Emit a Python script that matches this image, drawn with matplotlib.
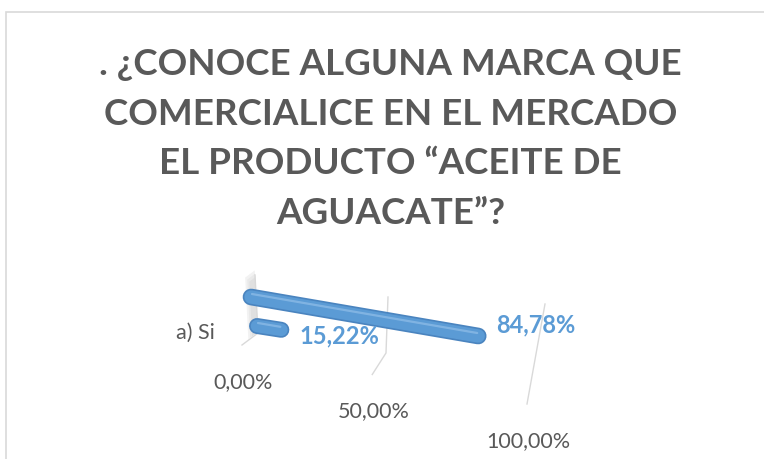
import numpy as np
import matplotlib
matplotlib.use("Agg")
from matplotlib import pyplot as plt
from matplotlib.patches import Polygon

# data
title = ". ¿CONOCE ALGUNA MARCA QUE\nCOMERCIALICE EN EL MERCADO\nEL PRODUCTO \u201cACEITE DE\nAGUACATE\u201d?"
category = "a) Si"
series_values = [0.1522, 0.8478]          # front row, back row
series_labels = ["15,22%", "84,78%"]
ticks = [0.0, 0.5, 1.0]
tick_labels = ["0,00%", "50,00%", "100,00%"]

BLUE = "#5B9BD5"
GREY_TXT = "#595959"

W, H, DPI = 764, 459, 100
fig = plt.figure(figsize=(W / DPI, H / DPI), dpi=DPI)
ax = fig.add_axes([0, 0, 1, 1])
ax.set_xlim(0, W)
ax.set_ylim(H, 0)
ax.axis("off")


def wall(x, z, h):
    # rough perspective box: x value (0..1), z depth (0 back .. 1 front), h height
    px = 258 + 236 * x + 40 * x ** 2 + (-3 + 10 * x) * h + (-16 + 9 * x ** 2) * z
    py = 333 + 40 * x + (-58 + 4 * x) * h + (12 + 19 * x) * z
    return px, py


# per-row bar axes (origin, vector for 100%)
rows = [((257, 326), (160, 25)),   # front row
        ((251, 297), (268, 46))]   # back row


def bar_pt(row, x):
    (ox, oy), (vx, vy) = rows[row]
    return ox + vx * x, oy + vy * x


# chart border
ax.plot([6, 6, W], [H, 12, 12], color="#D9D9D9", lw=1.2, solid_joinstyle="miter")

# side wall shading at 0
for k, c in enumerate(["#F2F2F2", "#E9E9E9", "#E0E0E0"]):
    s = 1.08 - 0.06 * k
    side = [wall(0, 0, s), wall(0, 0, 0.02), wall(0, 0.6 - 0.12 * k, 0.02),
            wall(0, 0.6 - 0.12 * k, s)]
    ax.add_patch(Polygon(side, closed=True, fc=c, ec="none"))

# gridlines
for t in ticks[:2]:
    top = wall(t, 0, 1)
    bot = wall(t, 0, 0)
    front = wall(t, 1, 0)
    ax.plot([top[0], bot[0], front[0]], [top[1], bot[1], front[1]],
            color="#D9D9D9", lw=1)
top = wall(1, 0, 1.0)
front = wall(1, 1, 0)
ax.plot([top[0] + 4, front[0]], [top[1] - 15, front[1]], color="#D9D9D9", lw=1)

# tick labels
for t, lab in zip(ticks, tick_labels):
    fx, fy = wall(t, 1, 0)
    ax.text(fx + 1, fy + 37, lab, ha="center", va="center",
            fontsize=15.5, color=GREY_TXT, family="Lato")

# category label
ax.text(215, 333, category, ha="right", va="center", fontsize=15.5,
        color=GREY_TXT, family="Lato")

# bars (back row first)
for row in [1, 0]:
    v = series_values[row]
    x0, y0 = bar_pt(row, 0)
    x1, y1 = bar_pt(row, v)
    lw = 12 if row == 1 else 11.5
    ax.plot([x0, x1], [y0, y1], color="#4A84BF", lw=lw, solid_capstyle="round")
    ax.plot([x0, x1], [y0, y1], color=BLUE, lw=lw - 2.4, solid_capstyle="round")
    ax.plot([x0 + 1, x1 - 1], [y0 - 3, y1 - 3], color="#8ABAE6", lw=1.6,
            solid_capstyle="round", alpha=0.8)
    ax.text(x1 + 18, y1 + (-11 if row == 1 else 6), series_labels[row],
            ha="left", va="center", fontsize=17, fontweight="bold",
            color=BLUE, family="Lato")

fig.text(0.511, 1 - 139 / H, title, ha="center", va="center", fontsize=26.5,
         fontweight="bold", color=GREY_TXT, family="Lato", linespacing=1.62)

fig.savefig("out.png", dpi=DPI)
